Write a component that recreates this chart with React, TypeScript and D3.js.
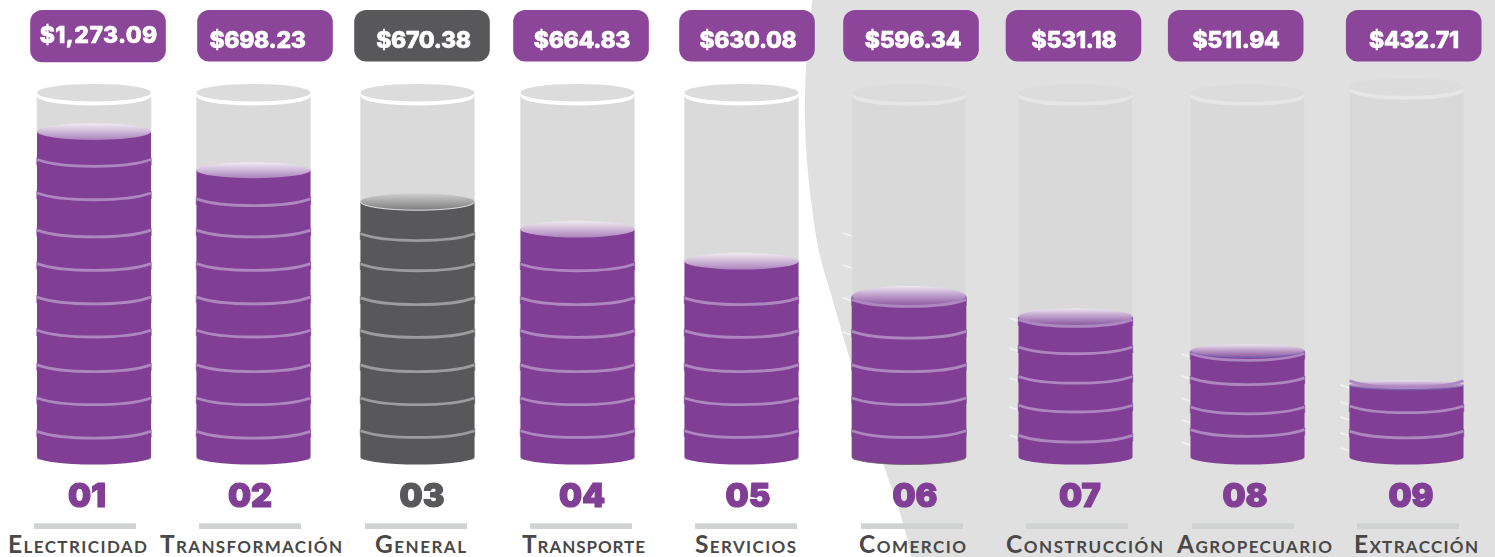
import React from "react";
import * as d3 from "d3";

const categories = ["Electricidad", "Transformación", "General", "Transporte", "Servicios", "Comercio", "Construcción", "Agropecuario", "Extracción"];
const ranks = ["01", "02", "03", "04", "05", "06", "07", "08", "09"];
const amounts = [1273.09, 698.23, 670.38, 664.83, 630.08, 596.34, 531.18, 511.94, 432.71];
// fill height of each tube in % as drawn (not proportional to the amount in the original)
const fillLevels = [89.4, 78.8, 70.1, 62.6, 53.8, 44.2, 38.5, 29.2, 19.8];
const ringLevels = [
  [79.8, 70.6, 60.4, 51.2, 42, 32.9, 23.4, 14.3, 5.1],
  [69, 60.4, 51.2, 42, 32.9, 23.4, 14.3, 5.1],
  [59.4, 51.1, 41.8, 32.8, 23.4, 14.3, 5.3],
  [51.1, 41.8, 32.8, 23.4, 14.3, 5.3],
  [41.8, 32.8, 23.4, 14.3, 5.3],
  [41.3, 32.6, 23.4, 14.3, 5.3],
  [35.8, 28.3, 20.2, 12.3, 4],
  [26.5, 19.8, 11.8, 5.6],
  [19, 12.1, 5.2],
];
const strayLevels = [
  [], [], [], [], [],
  [61.5, 52.7, 43.7, 34.3],
  [38.2, 29.9, 21.7, 13.7, 6],
  [28.3, 22.3, 16.2, 10.2, 4.1],
  [19.8, 15.1, 11, 6.6, 2.5],
];
const highlighted = "General";

// layout: the original columns are hand placed, so these are ordinal ranges
const W = 1495;
const H = 557;
const tubeX = d3.scaleOrdinal<string, number>(categories, [94, 253.5, 417.5, 577.5, 741.5, 909, 1075.5, 1247.5, 1406.5]);
const pillX = d3.scaleOrdinal<string, number>(categories, [98, 265, 422, 581, 747, 911, 1073.5, 1235.7, 1413.7]);
const amountX = d3.scaleOrdinal<string, number>(categories, [98.7, 257.5, 423.5, 582, 748, 913, 1074, 1236, 1414]);
const rankX = d3.scaleOrdinal<string, number>(categories, [87, 250, 422, 582, 748, 915, 1080, 1245, 1411]);
const ruleX = d3.scaleOrdinal<string, number>(categories, [85, 250, 416, 581, 746, 912, 1077, 1243, 1408]);
const labelX = d3.scaleOrdinal<string, number>(categories, [77.5, 251, 420.5, 583.5, 745.5, 912.5, 1084.5, 1254.5, 1416]);
const labelWidth = d3.scaleOrdinal<string, number>(categories, [139, 182, 91, 123, 101, 107, 157, 155, 124]);
const tubeTop = d3.scaleOrdinal<string, number>(categories, [92.7, 92.7, 92.7, 92.7, 92.7, 93, 93, 93, 87]);
const lidDepth = d3.scaleOrdinal<string, number>(categories, [8.4, 8, 8.4, 8.4, 8.4, 10, 8.6, 6.7, 5]);
const amountBase = d3.scaleOrdinal<string, number>(categories, [42.7, 47.7, 47.7, 47.7, 47.7, 47.7, 47.7, 47.7, 47.7]);
const yLevel = d3.scaleLinear().domain([0, 100]).range([457, 93]);

const halfTube = 57;
const PURPLE = "#813e95";
const PILL = "#8c4699";
const GREY = "#58585a";

// edge of the big grey disc behind the right half
const discEdge: [number, number][] = [
  [813, -5], [806, 67], [805.3, 133], [811, 200], [819.3, 253], [832.7, 300], [851, 363], [883, 463], [903, 523], [913, 565],
];
const discPath = d3.line().curve(d3.curveCatmullRom.alpha(0.5))(discEdge) + ` L${W + 5} 565 L${W + 5} -5 Z`;

const fmt = d3.format("$,.2f");

const App = () => (
  <svg width={W} height={H} style={{ position: "absolute", left: 0, top: 0, background: "#fff" }}>
    <defs>
      <linearGradient id="lid" x1="0" y1="0" x2="0" y2="1">
        <stop offset="0" stopColor="#f1ebf3" />
        <stop offset="0.35" stopColor="#d9c8e0" />
        <stop offset="1" stopColor="#ab82bc" />
      </linearGradient>
      <linearGradient id="lidDeep" x1="0" y1="0" x2="0" y2="1">
        <stop offset="0" stopColor="#eee6f1" />
        <stop offset="0.4" stopColor="#c4a8d0" />
        <stop offset="1" stopColor="#8a559f" />
      </linearGradient>
      <linearGradient id="lidGrey" x1="0" y1="0" x2="0" y2="1">
        <stop offset="0" stopColor="#cfcfcf" />
        <stop offset="1" stopColor="#7c7c7c" />
      </linearGradient>
      <filter id="soft" x="-5%" y="-50%" width="110%" height="200%">
        <feGaussianBlur stdDeviation="0.35" />
      </filter>
    </defs>
    <path d={discPath} fill="#e0e0e0" />

    {categories.map((c, i) => {
      const cx = tubeX(c);
      const x0 = cx - halfTube;
      const x1 = cx + halfTube;
      const onDisc = i >= 5;
      const color = c === highlighted ? GREY : PURPLE;
      const pillColor = c === highlighted ? GREY : PILL;
      const top = tubeTop(c);
      const yFill = yLevel(fillLevels[i]);
      const yBase = yLevel(0);
      const lid = lidDepth(c);
      const ringColor = c === highlighted ? "#9c9c9c" : "#ae87c0";
      const lidFill = c === highlighted ? "url(#lidGrey)" : onDisc ? "url(#lidDeep)" : "url(#lid)";
      return (
        <g key={c}>
          {strayLevels[i].map((l) => (
            <line key={l} x1={x0 - 9} x2={x0} y1={yLevel(l)} y2={yLevel(l) + 3} stroke="#fff" strokeOpacity={0.55} strokeWidth={1.8} />
          ))}
          <rect x={x0} y={top + 3} width={halfTube * 2} height={yBase - top} fill={onDisc ? "#d9d9d9" : "#dadada"} />
          <line x1={x0} x2={x0} y1={top + 4} y2={yFill} stroke={onDisc ? "#dedede" : "#e6e6e6"} />
          <line x1={x1} x2={x1} y1={top + 4} y2={yFill} stroke={onDisc ? "#dedede" : "#e6e6e6"} />
          <ellipse cx={cx} cy={top + 3.4} rx={halfTube} ry={9.4} fill={onDisc ? "#e6e6e6" : "#fff"} />
          <ellipse cx={cx} cy={top} rx={halfTube} ry={8.8} fill="#dcdcdc" />

          {ringLevels[i].filter((l) => yLevel(l) - 9 >= yFill).map((l) => (
            <rect key={l} x={x0 - 0.7} y={yLevel(l) - 9} width={halfTube * 2 + 1.4} height={8} fill={color} fillOpacity={0.7} />
          ))}
          <path
            d={`M${x0} ${yFill} V${yBase} A${halfTube} 7.5 0 0 0 ${x1} ${yBase} V${yFill} Z`}
            fill={color}
            stroke={i === 5 ? "#5f5f5f" : "none"}
            strokeWidth={i === 5 ? 0.7 : 0}
          />
          <ellipse cx={cx} cy={yFill} rx={halfTube} ry={lid} fill={lidFill} />
          {onDisc && (
            <path d={`M${x0} ${yFill} A${halfTube} ${lid} 0 0 0 ${x1} ${yFill}`} fill="none" stroke="#5f78c4" strokeOpacity={0.7} strokeWidth={0.8} />
          )}
          {c === highlighted && (
            <path d={`M${x0} ${yFill} A${halfTube} ${lid} 0 0 0 ${x1} ${yFill}`} fill="none" stroke="#fff" strokeWidth={0.8} />
          )}
          {ringLevels[i].map((l) => {
            const y = yLevel(l);
            return (
              <path
                key={l}
                d={`M${x0} ${y - 7} A65 13 0 0 0 ${x1} ${y - 7}`}
                fill="none"
                stroke={ringColor}
                strokeWidth={2.8}
                filter="url(#soft)"
              />
            );
          })}

          <rect
            x={pillX(c) - 67.8}
            y={10}
            width={135.6}
            height={i === 0 ? 52.3 : 51.5}
            rx={12}
            fill={pillColor}
          />
          <text
            x={amountX(c)}
            y={amountBase(c)}
            textAnchor="middle"
            fontFamily="Inter, sans-serif"
            fontWeight={800}
            fontSize={23}
            letterSpacing={i === 0 ? 0.4 : -0.3}
            fill="#fff"
            stroke="#fff"
            strokeWidth={0.6}
            opacity={0.999}
            style={{ paintOrder: "stroke" }}
          >
            {fmt(amounts[i])}
          </text>

          <text
            x={rankX(c)}
            y={506.5}
            textAnchor="middle"
            fontFamily="Inter, sans-serif"
            fontWeight={900}
            fontSize={32.5}
            fill={color}
            stroke={color}
            strokeWidth={1.2}
            opacity={0.999}
            style={{ paintOrder: "stroke" }}
          >
            {ranks[i]}
          </text>
          <rect x={ruleX(c) - 51} y={523.3} width={102} height={5.7} fill="#d1d2d2" />
          <text
            x={labelX(c)}
            y={553}
            textAnchor="middle"
            textLength={labelWidth(c)}
            fontFamily="Lato, sans-serif"
            fontWeight={700}
            fontSize={24.5}
            fill="#484848"
            style={{ fontVariant: "small-caps" }}
          >
            {c}
          </text>
        </g>
      );
    })}
  </svg>
);

export default App;
